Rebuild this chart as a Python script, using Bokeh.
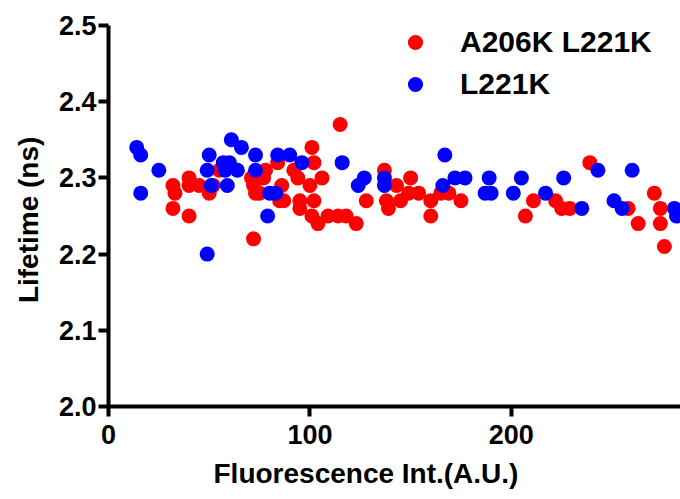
from bokeh.plotting import figure
from bokeh.models import FixedTicker, NumeralTickFormatter, Title
from bokeh.embed import file_html
from bokeh.resources import INLINE

# A206K L221K (red)
red_x = [32, 33, 40, 40, 45, 32, 40, 50, 52, 55, 72, 71, 72, 73, 78, 77, 75,
         84, 92, 94, 86, 87, 95, 95, 101, 102, 106, 100, 102, 101, 104, 109,
         114, 118, 123, 115, 128, 137, 138, 139, 143, 145, 150, 149, 154, 160,
         160, 165, 169, 175, 207, 211, 222, 225, 229, 239, 258, 263, 271, 274,
         274, 276, 85]
red_y = [2.29, 2.28, 2.30, 2.29, 2.29, 2.26, 2.25, 2.28, 2.29, 2.31, 2.22, 2.30,
         2.29, 2.28, 2.31, 2.30, 2.28, 2.32, 2.31, 2.30, 2.29, 2.27, 2.27, 2.26,
         2.34, 2.32, 2.30, 2.29, 2.27, 2.25, 2.24, 2.25, 2.25, 2.25, 2.24, 2.37,
         2.27, 2.31, 2.27, 2.26, 2.29, 2.27, 2.30, 2.28, 2.28, 2.27, 2.25, 2.28,
         2.28, 2.27, 2.25, 2.27, 2.27, 2.26, 2.26, 2.32, 2.26, 2.24, 2.28, 2.26,
         2.24, 2.21, 2.27]

# L221K (blue)
blue_x = [14, 16, 25, 16, 49, 50, 49, 51, 61, 66, 57, 60, 64, 59, 58, 73, 73,
          84, 90, 96, 80, 83, 79, 116, 127, 124, 137, 137, 167, 166, 172, 177,
          189, 187, 190, 205, 201, 217, 226, 235, 243, 260, 251, 255, 281, 282]
blue_y = [2.34, 2.33, 2.31, 2.28, 2.20, 2.33, 2.31, 2.29, 2.35, 2.34, 2.32, 2.32,
          2.31, 2.29, 2.31, 2.33, 2.31, 2.33, 2.33, 2.32, 2.28, 2.28, 2.25, 2.32,
          2.30, 2.29, 2.30, 2.29, 2.33, 2.29, 2.30, 2.30, 2.30, 2.28, 2.28, 2.30,
          2.28, 2.28, 2.30, 2.26, 2.31, 2.31, 2.27, 2.26, 2.26, 2.25]

x_ticks = [0, 100, 200]
y_ticks = [2.0, 2.1, 2.2, 2.3, 2.4, 2.5]

FONT = "Liberation Sans"

p = figure(width=680, height=499, x_range=(0, 284), y_range=(2.0, 2.5),
           output_backend="svg", toolbar_location=None,
           min_border_left=108, min_border_right=0,
           min_border_top=25, min_border_bottom=92)
p.outline_line_color = None
p.xgrid.grid_line_color = None
p.ygrid.grid_line_color = None
p.background_fill_color = "white"
p.border_fill_color = "white"

p.scatter(red_x, red_y, size=15, color="#ff0000", line_color=None,
          legend_label="A206K L221K")
p.scatter(blue_x, blue_y, size=15, color="#0000ff", line_color=None,
          legend_label="L221K")

p.xaxis.ticker = FixedTicker(ticks=x_ticks)
p.yaxis.ticker = FixedTicker(ticks=y_ticks)
p.yaxis.formatter = NumeralTickFormatter(format="0.0")
p.yaxis.axis_label = "Lifetime  (ns)"

for ax in (p.xaxis, p.yaxis):
    ax.axis_line_color = "black"
    ax.axis_line_width = 4
    ax.major_tick_line_color = "black"
    ax.major_tick_line_width = 4
    ax.major_tick_out = 10
    ax.major_tick_in = 0
    ax.minor_tick_line_color = None
    ax.major_label_text_font = FONT
    ax.major_label_text_font_style = "bold"
    ax.major_label_text_font_size = "27px"
    ax.major_label_text_color = "black"
    ax.axis_label_text_font = FONT
    ax.axis_label_text_font_style = "bold"
    ax.axis_label_text_font_size = "28px"
    ax.axis_label_text_color = "black"

p.yaxis.major_label_standoff = 2
p.xaxis.major_label_standoff = 8
p.yaxis.axis_label_standoff = 12

# x-axis title, placed off-centre as in the reference
xtitle = Title(text="Fluorescence Int.(A.U.)", align="left", offset=105,
               vertical_align="middle",
               text_font=FONT, text_font_style="bold", text_font_size="28px",
               text_color="black", standoff=20)
p.add_layout(xtitle, "below")

leg = p.legend[0]
leg.location = (288, 303)
leg.padding = 0
leg.margin = 0
leg.spacing = 4
leg.glyph_width = 38
leg.glyph_height = 38
leg.label_standoff = 26
leg.label_text_font = FONT
leg.label_text_font_style = "bold"
leg.label_text_font_size = "30px"
leg.label_text_color = "black"
leg.border_line_color = None
leg.background_fill_alpha = 0

open("out.html", "w").write(file_html(p, INLINE))
